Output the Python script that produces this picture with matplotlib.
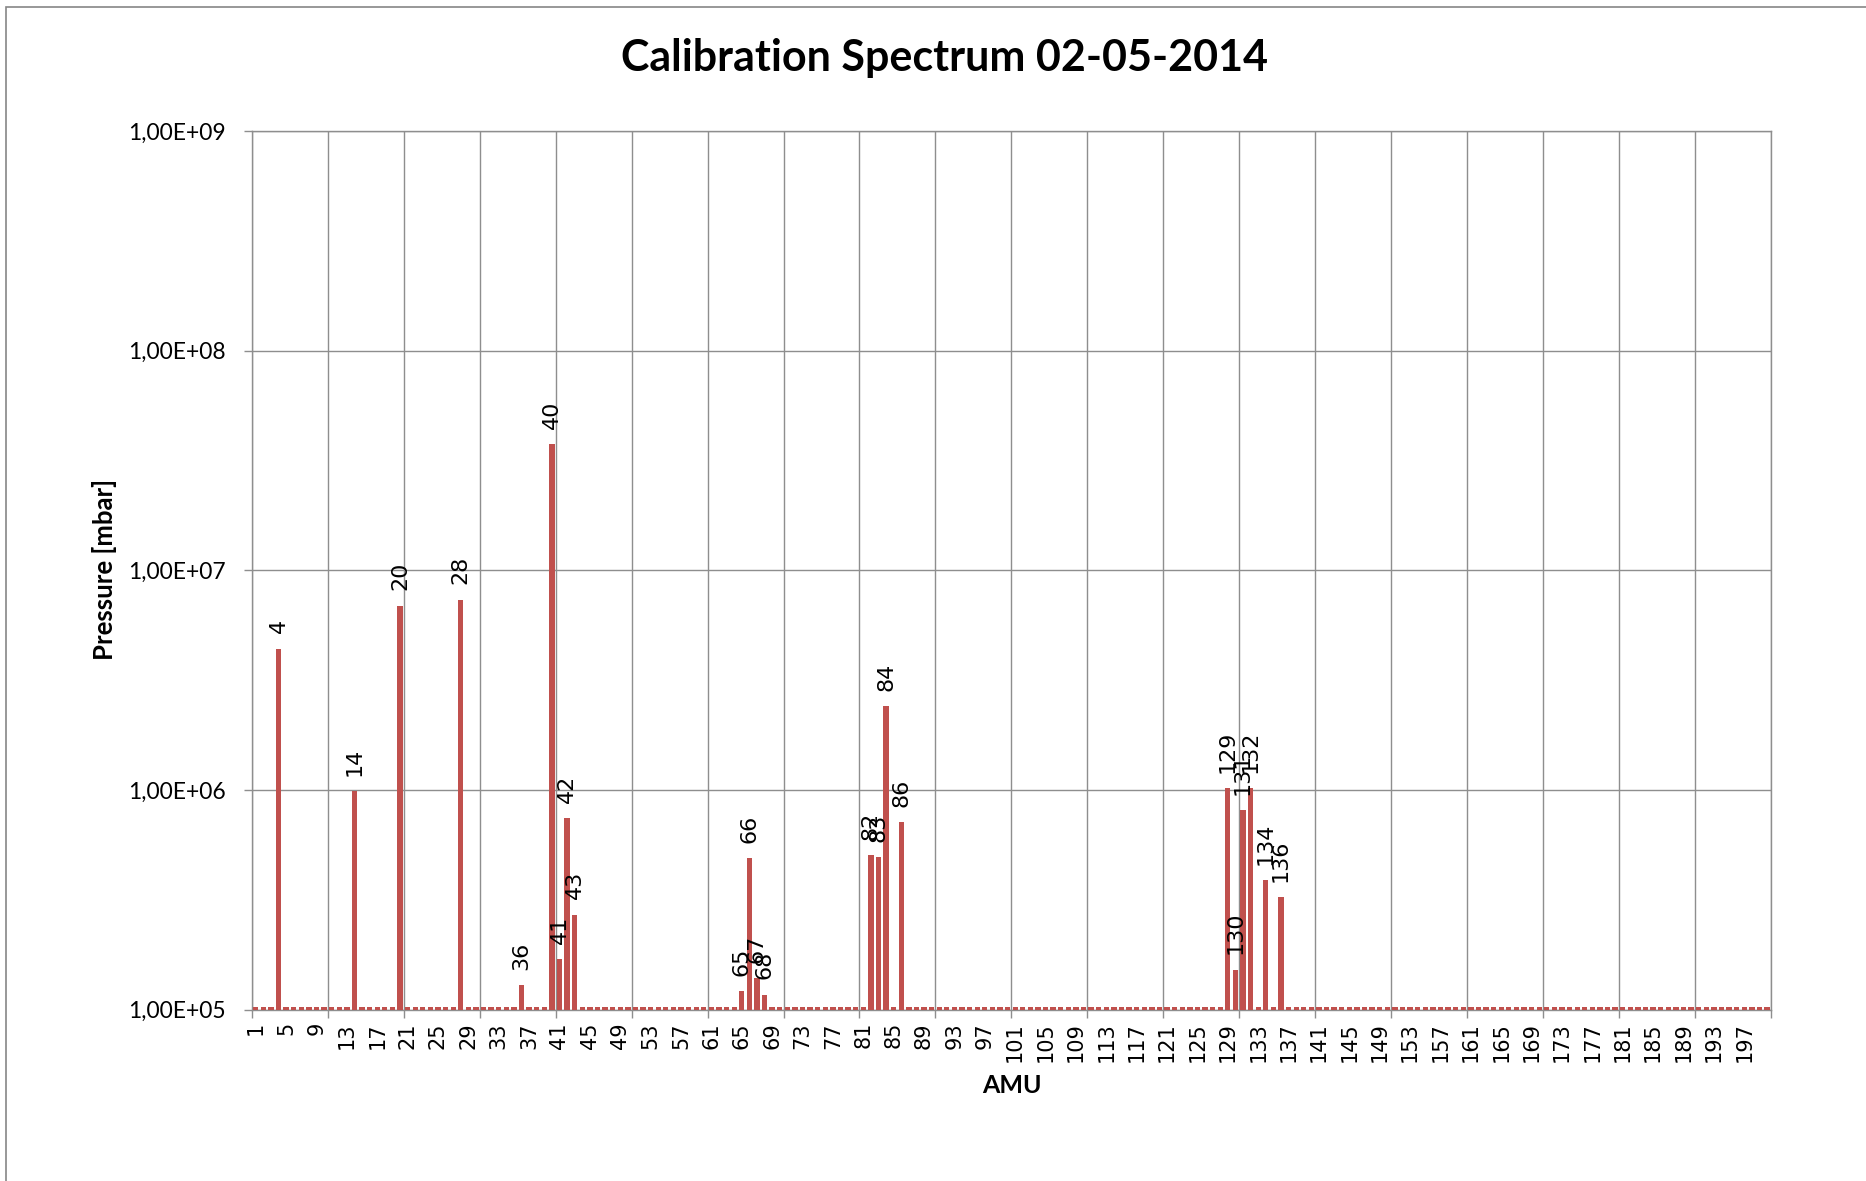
import numpy as np
import matplotlib
matplotlib.use("Agg")
import matplotlib.pyplot as plt
from matplotlib.ticker import FixedLocator, FuncFormatter
from matplotlib.patches import Rectangle

# mass axis 1..200 amu
amu = list(range(1, 201))
# noise floor read from the little dashes along the baseline
floor_level = 1.03e5

# labelled peaks
peak_amu = [4, 14, 20, 28, 36, 40, 41, 42, 43, 65, 66, 67, 68,
            82, 83, 84, 86, 129, 130, 131, 132, 134, 136]
peak_pressure = [4.4e6, 9.9e5, 6.9e6, 7.35e6, 1.29e5, 3.75e7, 1.69e5, 7.45e5, 2.7e5,
                 1.21e5, 4.9e5, 1.39e5, 1.17e5,
                 5.04e5, 4.93e5, 2.4e6, 7.12e5,
                 1.02e6, 1.52e5, 8.07e5, 1.02e6, 3.87e5, 3.25e5]

tick_amu = list(range(1, 201, 4))
decades = [1e5, 1e6, 1e7, 1e8, 1e9]
base = decades[0]

pressure = {m: floor_level for m in amu}
for m, p in zip(peak_amu, peak_pressure):
    pressure[m] = p

bar_color = "#C0504D"
grid_color = "#8e8e8e"

fig = plt.figure(figsize=(18.66, 11.81), dpi=100)
ax = fig.add_axes([0.135, 0.1452, 0.814, 0.7439])

# bars grow up from the 1e5 axis floor
ax.bar(amu, [pressure[m] - base for m in amu], width=0.7, bottom=base,
       color=bar_color, zorder=3)

ax.set_yscale("log")
ax.set_ylim(1e5, 1e9)
ax.set_xlim(0.5, 200.5)

# data labels on the peaks
for m, p in zip(peak_amu, peak_pressure):
    ax.annotate(str(m), (m, p), xytext=(0, 11), textcoords="offset points",
                rotation=90, ha="center", va="bottom", fontsize=16, zorder=4)

# y axis
ax.yaxis.set_major_locator(FixedLocator(decades))
ax.yaxis.set_minor_locator(FixedLocator([]))
ax.yaxis.set_major_formatter(FuncFormatter(lambda v, _: ("%.2E" % v).replace(".", ",")))
ax.tick_params(axis="y", which="major", length=6, width=1.0, color=grid_color,
               pad=13, labelsize=16.5)
for t in ax.get_yticklabels():
    t.set_family("Lato")

# x axis: labels every 4, tick marks + gridlines every 10
ax.xaxis.set_major_locator(FixedLocator(tick_amu))
ax.set_xticklabels([str(m) for m in tick_amu], rotation=90, fontsize=15)
ax.xaxis.set_minor_locator(FixedLocator(np.arange(0.5, 201, 10)))
ax.tick_params(axis="x", which="major", length=0, pad=9)
ax.tick_params(axis="x", which="minor", length=6, width=1.0, color=grid_color)

ax.grid(True, axis="y", which="major", color=grid_color, lw=1.0, zorder=0)
ax.grid(True, axis="x", which="minor", color=grid_color, lw=1.0, zorder=0)
ax.set_axisbelow(True)
for s in ax.spines.values():
    s.set_color(grid_color)
    s.set_linewidth(1.0)

fig.text(0.506, 0.951, "Calibration Spectrum 02-05-2014", ha="center", va="center",
         fontsize=31, fontweight="bold", family="Lato")
fig.text(0.056, 0.518, "Pressure [mbar]", ha="center", va="center", rotation=90,
         fontsize=18.5, fontweight="bold", family="Lato")
fig.text(0.5425, 0.0806, "AMU", ha="center", va="center",
         fontsize=18, fontweight="bold", family="Lato")

# chart area border (cut off at right and bottom in the original)
fig.add_artist(Rectangle((0.003, -0.1), 1.2, 1.094, transform=fig.transFigure,
                         fill=False, edgecolor="#868686", lw=1.2))

fig.savefig("out.png", dpi=100)
